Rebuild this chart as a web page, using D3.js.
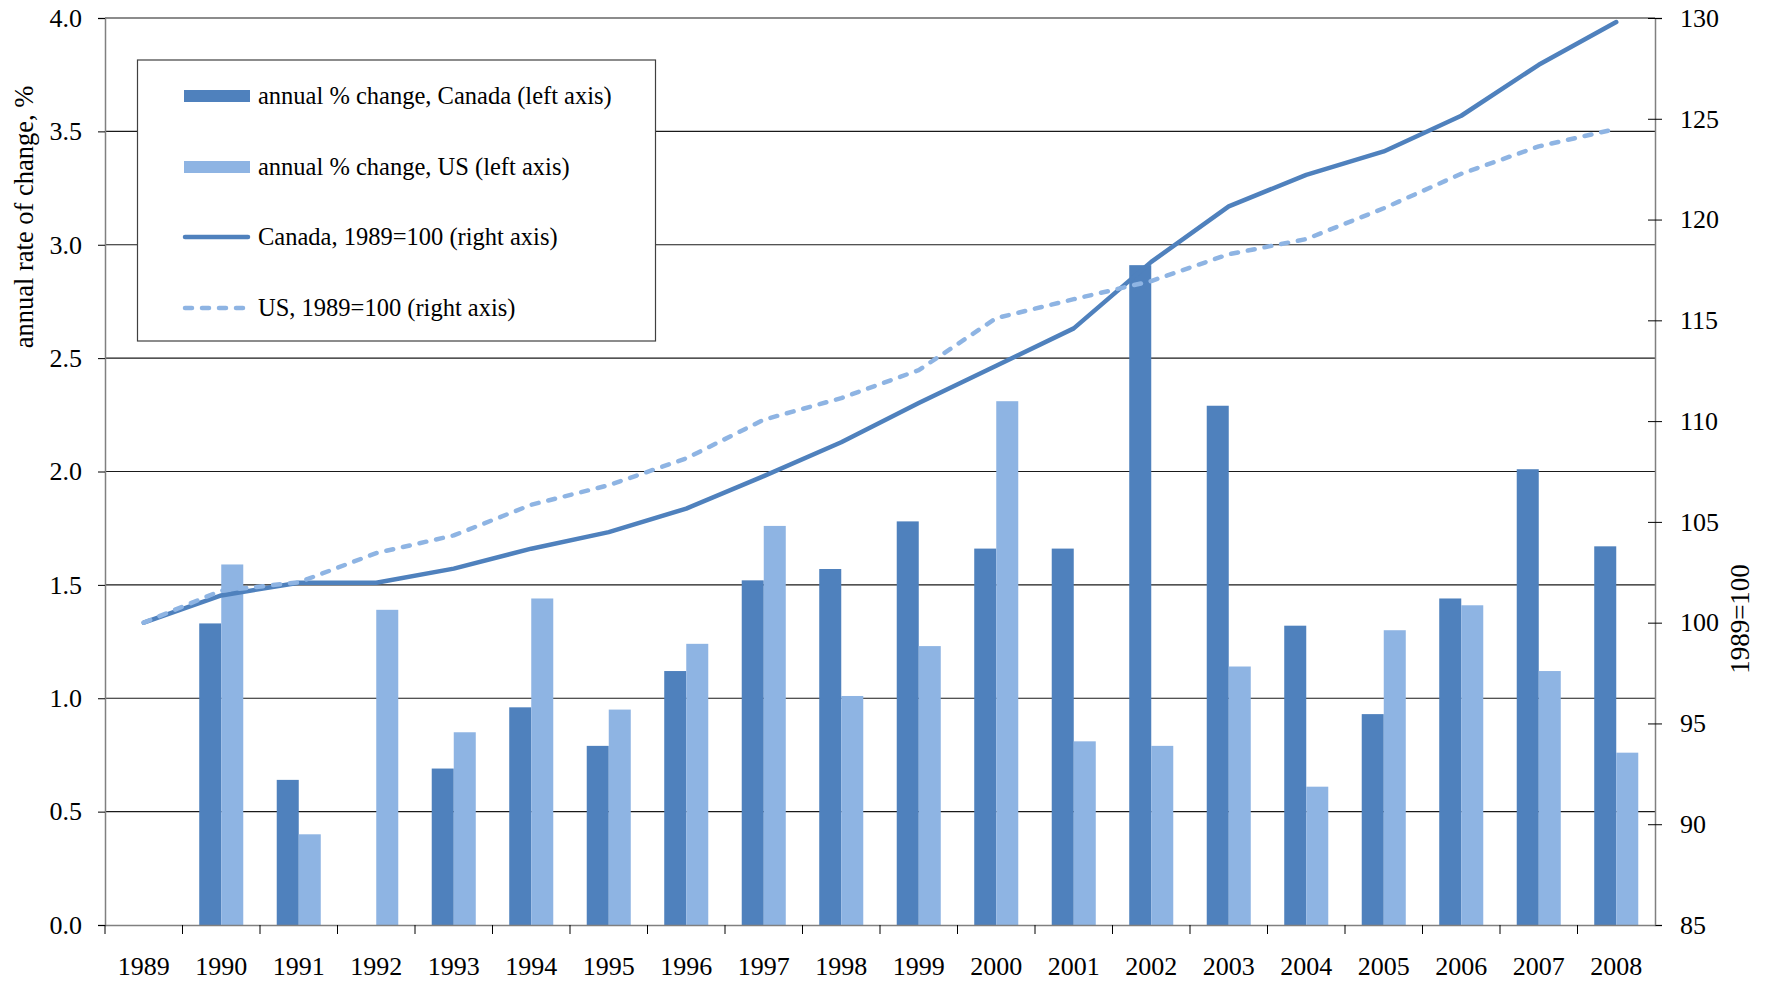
<!DOCTYPE html>
<html>
<head>
<meta charset="utf-8">
<script src="https://cdn.jsdelivr.net/npm/d3@7"></script>
<style>
  body { margin: 0; background: #fff; }
  svg { display: block; }
  svg text { font-family: "Times New Roman", "Liberation Serif", Tinos, "DejaVu Serif", "Noto Serif", serif !important; }
</style>
</head>
<body>
<svg id="chart" width="1765" height="982"></svg>
<script>
// values
const years = ['1989', '1990', '1991', '1992', '1993', '1994', '1995', '1996', '1997', '1998',
               '1999', '2000', '2001', '2002', '2003', '2004', '2005', '2006', '2007', '2008'];
const canadaChange = [0, 1.33, 0.64, 0, 0.69, 0.96, 0.79, 1.12, 1.52, 1.57,
                      1.78, 1.66, 1.66, 2.91, 2.29, 1.32, 0.93, 1.44, 2.01, 1.67];
const usChange = [0, 1.59, 0.40, 1.39, 0.85, 1.44, 0.95, 1.24, 1.76, 1.01,
                  1.23, 2.31, 0.81, 0.79, 1.14, 0.61, 1.30, 1.41, 1.12, 0.76];
const canadaIndex = [100, 101.35, 101.98, 101.98, 102.68, 103.67, 104.49, 105.66, 107.27, 108.95,
                     110.9, 112.75, 114.6, 117.9, 120.65, 122.22, 123.38, 125.15, 127.68, 129.8];
const usIndex = [100, 101.59, 102.0, 103.45, 104.33, 105.85, 106.82, 108.15, 110.07, 111.14,
                 112.53, 115.11, 116.05, 116.95, 118.28, 119.03, 120.56, 122.27, 123.63, 124.5];
const leftTicks = [0, 0.5, 1, 1.5, 2, 2.5, 3, 3.5, 4];
const rightTicks = [85, 90, 95, 100, 105, 110, 115, 120, 125, 130];
const legendLabels = ['annual % change, Canada (left axis)', 'annual % change, US (left axis)',
                      'Canada, 1989=100 (right axis)', 'US, 1989=100 (right axis)'];

const DARK = '#4F81BD', LIGHT = '#8EB4E3';
const M = { left: 105, right: 1655, top: 18, bottom: 925 };

const svg = d3.select('#chart');

const x0 = d3.scaleBand().domain(years).range([M.left, M.right]);
const x1 = d3.scaleBand().domain(['ca', 'us']).range([0, x0.bandwidth()]).paddingOuter(0.76);
const yL = d3.scaleLinear().domain([0, 4]).range([M.bottom, M.top]);
const yR = d3.scaleLinear().domain([85, 130]).range([M.bottom, M.top]);

// gridlines
svg.append('g')
    .selectAll('line')
    .data(leftTicks.slice(1))
    .join('line')
    .attr('x1', M.left).attr('x2', M.right)
    .attr('y1', d => yL(d)).attr('y2', d => yL(d))
    .attr('stroke', '#1a1a1a').attr('stroke-width', 1.2);

// bars
const groups = svg.append('g')
    .selectAll('g')
    .data(years)
    .join('g')
    .attr('transform', d => `translate(${x0(d)},0)`);
groups.append('rect')
    .attr('x', x1('ca')).attr('width', x1.bandwidth())
    .attr('y', (d, i) => yL(canadaChange[i]))
    .attr('height', (d, i) => yL(0) - yL(canadaChange[i]))
    .attr('fill', DARK);
groups.append('rect')
    .attr('x', x1('us')).attr('width', x1.bandwidth())
    .attr('y', (d, i) => yL(usChange[i]))
    .attr('height', (d, i) => yL(0) - yL(usChange[i]))
    .attr('fill', LIGHT);

// axes
const leftAxis = svg.append('g')
    .attr('transform', `translate(${M.left},0)`)
    .call(d3.axisLeft(yL).tickValues(leftTicks).tickFormat(d3.format('.1f')).tickSize(7).tickPadding(16));
const rightAxis = svg.append('g')
    .attr('transform', `translate(${M.right},0)`)
    .call(d3.axisRight(yR).tickValues(rightTicks).tickSize(7).tickPadding(18));
rightAxis.selectAll('.tick line').attr('x1', -7);
const bottomAxis = svg.append('g')
    .attr('transform', `translate(0,${M.bottom})`)
    .call(d3.axisBottom(x0).tickSize(0).tickPadding(32));
bottomAxis.selectAll('.tick').append('line')
    .attr('x1', -x0.bandwidth() / 2).attr('x2', -x0.bandwidth() / 2)
    .attr('y1', 0).attr('y2', 9)
    .attr('stroke', '#000');

[leftAxis, rightAxis, bottomAxis].forEach(a => {
    a.attr('font-family', null);
    a.select('.domain').attr('stroke', '#808080').attr('stroke-width', 1.5);
    a.selectAll('.tick line').attr('stroke', '#000');
    a.selectAll('text').attr('font-size', 26).attr('fill', '#000');
});

// lines
const line = d3.line()
    .x((d, i) => x0(years[i]) + x0.bandwidth() / 2)
    .y(d => yR(d));
svg.append('path')
    .datum(canadaIndex)
    .attr('d', line)
    .attr('fill', 'none').attr('stroke', DARK).attr('stroke-width', 4.5)
    .attr('stroke-linejoin', 'round').attr('stroke-linecap', 'round');
svg.append('path')
    .datum(usIndex)
    .attr('d', line)
    .attr('fill', 'none').attr('stroke', LIGHT).attr('stroke-width', 4.5)
    .attr('stroke-dasharray', '7,10')
    .attr('stroke-linejoin', 'round').attr('stroke-linecap', 'round');

// axis titles
svg.append('text')
    .text('annual rate of change, %')
    .attr('transform', 'translate(33,217) rotate(-90)')
    .attr('text-anchor', 'middle')
    .attr('font-size', 26.5);
svg.append('text')
    .text('1989=100')
    .attr('transform', 'translate(1749,619) rotate(-90)')
    .attr('text-anchor', 'middle')
    .attr('font-size', 27);

// legend
const legend = svg.append('g');
legend.append('rect')
    .attr('x', 137.5).attr('y', 60)
    .attr('width', 518).attr('height', 281)
    .attr('fill', '#fff').attr('stroke', '#404040').attr('stroke-width', 1.2);
const rowY = [96, 167, 237, 308];
const items = legend.selectAll('g.item')
    .data(legendLabels)
    .join('g')
    .attr('class', 'item')
    .attr('transform', (d, i) => `translate(0,${rowY[i]})`);
items.filter((d, i) => i < 2).append('rect')
    .attr('x', 184).attr('y', -6).attr('width', 66).attr('height', 12)
    .attr('fill', (d, i) => i === 0 ? DARK : LIGHT);
items.filter((d, i) => i >= 2).append('line')
    .attr('x1', 185).attr('x2', 248)
    .attr('stroke', (d, i) => i === 0 ? DARK : LIGHT)
    .attr('stroke-width', 4.5).attr('stroke-linecap', 'round')
    .attr('stroke-dasharray', (d, i) => i === 0 ? null : '7,10');
items.append('text')
    .text(d => d)
    .attr('x', 258).attr('y', 8)
    .attr('font-size', 24.5);
</script>
</body>
</html>
